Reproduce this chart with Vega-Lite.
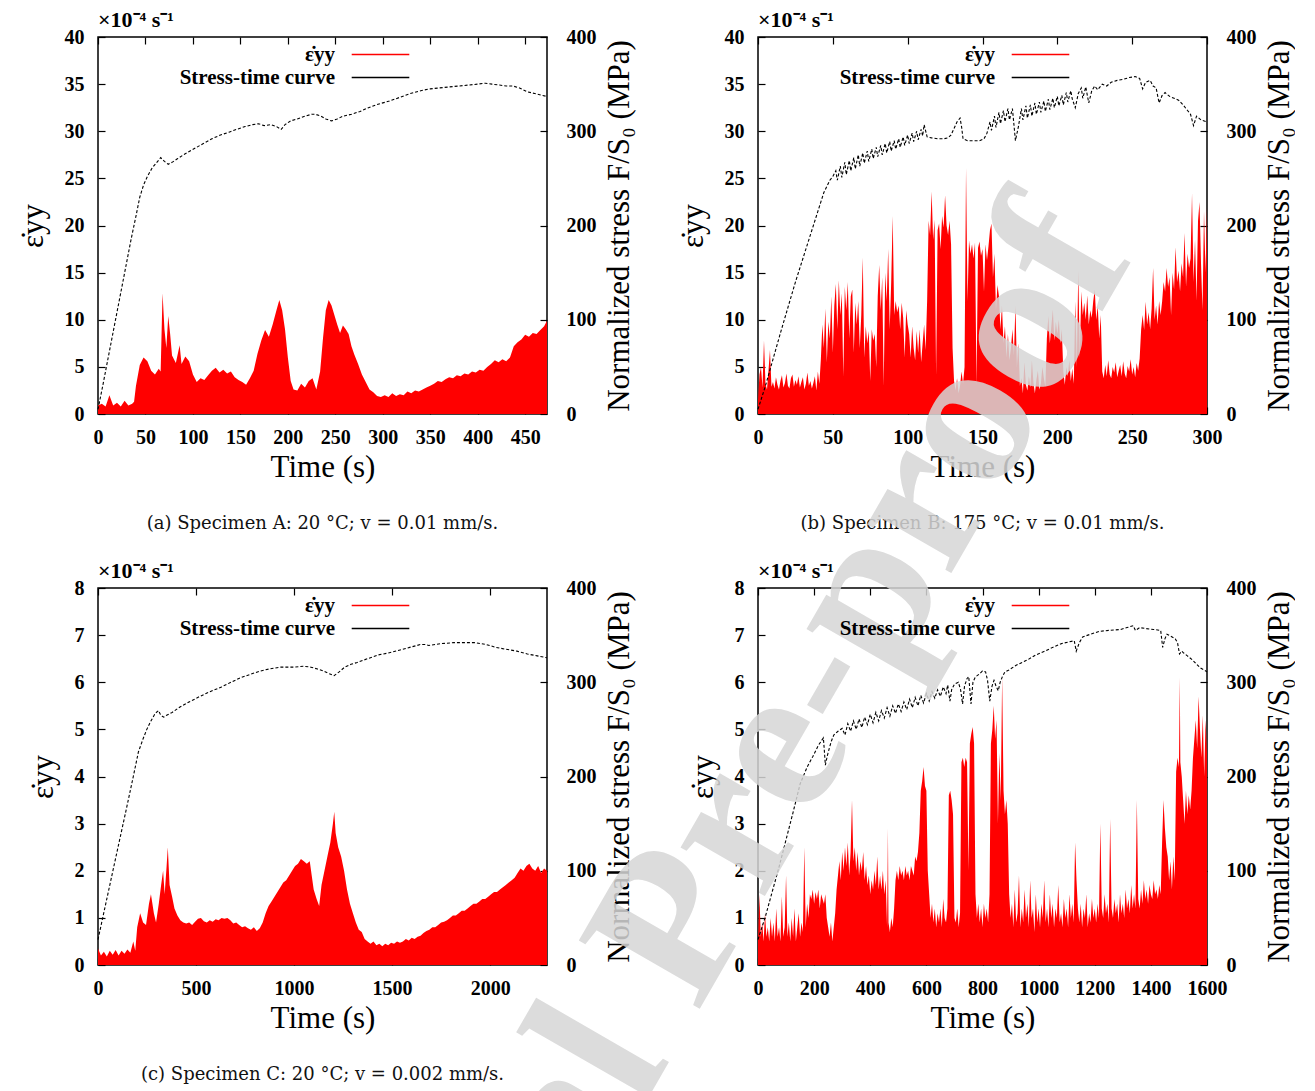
{
  "$schema": "https://vega.github.io/schema/vega-lite/v6.json",
  "background": "white",
  "padding": {"left": 16, "top": 8, "right": 0, "bottom": 0},
  "bounds": "flush",
  "columns": 2,
  "spacing": {"row": 174, "column": 211},
  "resolve": {"scale": {"color": "independent"}, "legend": {"color": "independent"}},
  "config": {
    "font": "Liberation Serif",
    "view": {"stroke": "#000000", "strokeWidth": 1.5},
    "axis": {"domain": false, "grid": false, "ticks": true, "tickSize": -7, "tickColor": "#000000", "tickWidth": 1.2, "labelFont": "Liberation Serif", "labelFontSize": 20, "labelFontWeight": "bold", "labelColor": "#000000", "titleFont": "Liberation Serif", "titleFontSize": 31, "titleFontWeight": "normal", "titleColor": "#000000", "labelFlush": false, "labelOverlap": false, "format": "d"},
    "axisBottom": {"labelPadding": 20, "titlePadding": 5},
    "axisTop": {"labels": false},
    "axisLeft": {"labelPadding": 21, "titlePadding": 15},
    "axisRight": {"labelPadding": 26, "titlePadding": 8, "titleAngle": 270, "titleBaseline": "top"},
    "legend": {"orient": "none", "legendX": 272, "legendY": 7, "title": null, "symbolType": "M-4.8,0H4.8", "symbolSize": 144, "symbolStrokeWidth": 1.3, "rowPadding": 1, "labelAlign": "right", "labelOffset": -56, "labelFont": "Liberation Serif", "labelFontSize": 21, "labelFontWeight": "bold", "labelColor": "#000000", "labelLimit": 400, "padding": 0},
    "title": {"font": "DejaVu Serif", "fontSize": 18, "fontWeight": "normal", "color": "#111111", "orient": "bottom", "offset": 33, "anchor": "middle"}
  },
  "datasets": {
    "sA": [{"t":0,"e":0.9},{"t":4,"e":1.1},{"t":8,"e":0.8},{"t":12,"e":2.0},{"t":16,"e":0.9},{"t":20,"e":1.2},{"t":24,"e":0.8},{"t":28,"e":1.4},{"t":32,"e":0.9},{"t":36,"e":1.1},{"t":38,"e":1.3},{"t":40,"e":3.0},{"t":44,"e":5.2},{"t":48,"e":6.0},{"t":52,"e":5.6},{"t":56,"e":4.6},{"t":60,"e":4.2},{"t":64,"e":4.8},{"t":66,"e":4.5},{"t":68,"e":12.8},{"t":70,"e":9.0},{"t":72,"e":7.0},{"t":74,"e":10.4},{"t":76,"e":8.5},{"t":78,"e":6.2},{"t":82,"e":5.4},{"t":86,"e":7.3},{"t":88,"e":5.3},{"t":92,"e":6.1},{"t":96,"e":5.6},{"t":100,"e":4.2},{"t":104,"e":3.4},{"t":108,"e":3.8},{"t":112,"e":3.6},{"t":116,"e":4.1},{"t":120,"e":4.6},{"t":124,"e":4.9},{"t":128,"e":4.4},{"t":132,"e":4.7},{"t":136,"e":4.3},{"t":140,"e":4.5},{"t":144,"e":3.9},{"t":148,"e":3.6},{"t":152,"e":3.4},{"t":156,"e":3.1},{"t":160,"e":3.8},{"t":164,"e":4.6},{"t":168,"e":6.4},{"t":172,"e":7.8},{"t":176,"e":8.9},{"t":180,"e":8.2},{"t":184,"e":9.5},{"t":188,"e":11.0},{"t":191,"e":12.1},{"t":194,"e":11.0},{"t":197,"e":9.0},{"t":200,"e":6.0},{"t":203,"e":3.5},{"t":206,"e":2.6},{"t":210,"e":2.5},{"t":214,"e":3.2},{"t":218,"e":2.8},{"t":222,"e":3.5},{"t":226,"e":3.8},{"t":230,"e":2.6},{"t":234,"e":4.5},{"t":237,"e":8.0},{"t":240,"e":11.0},{"t":243,"e":12.1},{"t":246,"e":11.5},{"t":249,"e":10.5},{"t":252,"e":9.5},{"t":255,"e":8.6},{"t":258,"e":9.4},{"t":261,"e":9.0},{"t":264,"e":8.5},{"t":267,"e":7.2},{"t":270,"e":6.3},{"t":274,"e":5.3},{"t":278,"e":4.2},{"t":282,"e":3.4},{"t":286,"e":2.6},{"t":290,"e":2.3},{"t":294,"e":1.9},{"t":298,"e":1.8},{"t":302,"e":2.0},{"t":306,"e":1.8},{"t":310,"e":2.2},{"t":314,"e":1.9},{"t":318,"e":2.1},{"t":322,"e":2.0},{"t":326,"e":2.4},{"t":330,"e":2.2},{"t":334,"e":2.5},{"t":338,"e":2.4},{"t":342,"e":2.6},{"t":346,"e":2.8},{"t":350,"e":3.0},{"t":354,"e":3.2},{"t":358,"e":3.5},{"t":362,"e":3.4},{"t":366,"e":3.7},{"t":370,"e":3.9},{"t":374,"e":3.8},{"t":378,"e":4.1},{"t":382,"e":4.0},{"t":386,"e":4.3},{"t":390,"e":4.2},{"t":394,"e":4.5},{"t":398,"e":4.4},{"t":402,"e":4.7},{"t":406,"e":4.6},{"t":410,"e":5.0},{"t":414,"e":5.3},{"t":418,"e":5.7},{"t":422,"e":5.5},{"t":426,"e":5.8},{"t":430,"e":5.6},{"t":434,"e":6.0},{"t":438,"e":7.2},{"t":442,"e":7.6},{"t":446,"e":7.9},{"t":450,"e":8.4},{"t":454,"e":8.2},{"t":458,"e":8.6},{"t":462,"e":8.5},{"t":466,"e":8.9},{"t":470,"e":9.3},{"t":473,"e":9.9}],
    "pA": [{"t":0,"s":5},{"t":5,"s":30},{"t":10,"s":56},{"t":15,"s":82},{"t":20,"s":108},{"t":25,"s":134},{"t":30,"s":160},{"t":35,"s":186},{"t":40,"s":210},{"t":44,"s":230},{"t":48,"s":243},{"t":52,"s":252},{"t":57,"s":261},{"t":62,"s":267},{"t":66,"s":272},{"t":70,"s":268},{"t":74,"s":265},{"t":78,"s":267},{"t":84,"s":271},{"t":90,"s":275},{"t":97,"s":279},{"t":104,"s":283},{"t":111,"s":287},{"t":120,"s":292},{"t":129,"s":296},{"t":138,"s":299},{"t":146,"s":302},{"t":155,"s":305},{"t":163,"s":307},{"t":169,"s":308},{"t":175,"s":306},{"t":182,"s":307},{"t":188,"s":305},{"t":193,"s":302},{"t":197,"s":307},{"t":203,"s":311},{"t":210,"s":313},{"t":218,"s":316},{"t":225,"s":318},{"t":229,"s":318},{"t":235,"s":316},{"t":240,"s":313},{"t":246,"s":311},{"t":252,"s":313},{"t":258,"s":316},{"t":267,"s":318},{"t":276,"s":321},{"t":285,"s":325},{"t":296,"s":329},{"t":307,"s":332},{"t":318,"s":336},{"t":329,"s":340},{"t":340,"s":343},{"t":350,"s":345},{"t":360,"s":346},{"t":370,"s":347},{"t":380,"s":348},{"t":390,"s":349},{"t":400,"s":350},{"t":408,"s":351},{"t":415,"s":350},{"t":423,"s":349},{"t":430,"s":348},{"t":437,"s":348},{"t":444,"s":346},{"t":452,"s":342},{"t":460,"s":340},{"t":468,"s":338},{"t":473,"s":337}],
    "sB": [{"t":0,"e":1.5},{"t":1,"e":4.2},{"t":2,"e":5.0},{"t":3,"e":2.8},{"t":4,"e":7.8},{"t":5,"e":3.2},{"t":6,"e":2.6},{"t":7,"e":4.6},{"t":8,"e":6.8},{"t":9,"e":2.9},{"t":10,"e":3.4},{"t":11,"e":2.7},{"t":12,"e":3.9},{"t":13,"e":3.1},{"t":14,"e":2.6},{"t":15,"e":3.5},{"t":16,"e":4.1},{"t":17,"e":2.8},{"t":18,"e":3.3},{"t":19,"e":4.3},{"t":20,"e":3.0},{"t":21,"e":2.7},{"t":22,"e":3.8},{"t":23,"e":4.2},{"t":24,"e":2.9},{"t":25,"e":3.6},{"t":26,"e":3.1},{"t":27,"e":4.0},{"t":28,"e":2.8},{"t":29,"e":3.4},{"t":30,"e":3.9},{"t":31,"e":2.6},{"t":32,"e":3.2},{"t":33,"e":4.4},{"t":34,"e":3.0},{"t":35,"e":3.5},{"t":36,"e":2.7},{"t":37,"e":3.3},{"t":38,"e":4.0},{"t":39,"e":2.5},{"t":40,"e":4.5},{"t":41,"e":3.2},{"t":42,"e":5.8},{"t":43,"e":9.5},{"t":44,"e":7.0},{"t":45,"e":11.2},{"t":46,"e":5.5},{"t":47,"e":9.8},{"t":48,"e":8.0},{"t":49,"e":12.5},{"t":50,"e":6.5},{"t":51,"e":11.5},{"t":52,"e":13.8},{"t":53,"e":9.0},{"t":54,"e":14.2},{"t":55,"e":10.5},{"t":56,"e":12.8},{"t":57,"e":4.0},{"t":58,"e":13.5},{"t":59,"e":11.0},{"t":60,"e":14.0},{"t":61,"e":8.0},{"t":62,"e":12.5},{"t":63,"e":13.2},{"t":64,"e":6.5},{"t":65,"e":11.8},{"t":66,"e":9.5},{"t":67,"e":12.0},{"t":68,"e":7.0},{"t":69,"e":10.5},{"t":70,"e":16.6},{"t":71,"e":6.0},{"t":72,"e":9.3},{"t":73,"e":7.5},{"t":74,"e":8.8},{"t":75,"e":3.5},{"t":76,"e":9.0},{"t":77,"e":7.8},{"t":78,"e":8.5},{"t":79,"e":5.0},{"t":80,"e":12.5},{"t":81,"e":15.8},{"t":82,"e":11.0},{"t":83,"e":14.5},{"t":84,"e":3.0},{"t":85,"e":15.0},{"t":86,"e":12.0},{"t":87,"e":17.5},{"t":88,"e":9.0},{"t":89,"e":14.0},{"t":90,"e":21.0},{"t":91,"e":10.5},{"t":92,"e":12.0},{"t":93,"e":10.8},{"t":94,"e":11.5},{"t":95,"e":9.0},{"t":96,"e":11.8},{"t":97,"e":10.2},{"t":98,"e":6.0},{"t":99,"e":11.0},{"t":100,"e":9.5},{"t":101,"e":8.5},{"t":102,"e":6.0},{"t":103,"e":9.3},{"t":104,"e":7.0},{"t":105,"e":5.7},{"t":106,"e":8.8},{"t":107,"e":6.5},{"t":108,"e":9.0},{"t":109,"e":5.5},{"t":110,"e":7.5},{"t":111,"e":9.5},{"t":112,"e":6.8},{"t":113,"e":12.0},{"t":114,"e":20.5},{"t":115,"e":19.0},{"t":116,"e":23.6},{"t":117,"e":18.5},{"t":118,"e":20.6},{"t":119,"e":4.0},{"t":120,"e":19.5},{"t":121,"e":20.2},{"t":122,"e":17.5},{"t":123,"e":21.0},{"t":124,"e":19.8},{"t":125,"e":23.2},{"t":126,"e":20.0},{"t":127,"e":19.0},{"t":128,"e":20.5},{"t":129,"e":18.0},{"t":130,"e":7.0},{"t":131,"e":3.5},{"t":132,"e":2.5},{"t":133,"e":3.8},{"t":134,"e":2.2},{"t":135,"e":3.0},{"t":136,"e":4.5},{"t":137,"e":3.2},{"t":138,"e":5.0},{"t":139,"e":26.1},{"t":140,"e":12.0},{"t":141,"e":18.4},{"t":142,"e":17.0},{"t":143,"e":18.0},{"t":144,"e":16.5},{"t":145,"e":18.2},{"t":146,"e":3.0},{"t":147,"e":17.6},{"t":148,"e":18.3},{"t":149,"e":16.8},{"t":150,"e":17.5},{"t":151,"e":13.0},{"t":152,"e":18.0},{"t":153,"e":16.3},{"t":154,"e":17.8},{"t":155,"e":19.5},{"t":156,"e":20.2},{"t":157,"e":14.5},{"t":158,"e":17.0},{"t":159,"e":11.0},{"t":160,"e":13.7},{"t":161,"e":12.5},{"t":162,"e":9.0},{"t":163,"e":11.5},{"t":164,"e":7.5},{"t":165,"e":9.3},{"t":166,"e":6.0},{"t":167,"e":8.5},{"t":168,"e":5.7},{"t":169,"e":7.0},{"t":170,"e":9.0},{"t":171,"e":6.2},{"t":172,"e":11.5},{"t":173,"e":5.0},{"t":174,"e":7.5},{"t":175,"e":3.0},{"t":176,"e":3.8},{"t":177,"e":2.2},{"t":178,"e":5.5},{"t":179,"e":3.1},{"t":180,"e":2.5},{"t":181,"e":4.0},{"t":182,"e":2.8},{"t":183,"e":5.7},{"t":184,"e":3.4},{"t":185,"e":2.2},{"t":186,"e":3.6},{"t":187,"e":4.6},{"t":188,"e":2.6},{"t":189,"e":3.2},{"t":190,"e":5.0},{"t":191,"e":3.8},{"t":192,"e":2.9},{"t":193,"e":8.0},{"t":194,"e":10.4},{"t":195,"e":7.5},{"t":196,"e":9.3},{"t":197,"e":11.1},{"t":198,"e":7.8},{"t":199,"e":9.8},{"t":200,"e":8.5},{"t":201,"e":10.0},{"t":202,"e":7.5},{"t":203,"e":9.0},{"t":204,"e":4.5},{"t":205,"e":3.1},{"t":206,"e":5.0},{"t":207,"e":4.0},{"t":208,"e":5.7},{"t":209,"e":3.5},{"t":210,"e":4.8},{"t":211,"e":3.2},{"t":212,"e":12.0},{"t":213,"e":5.0},{"t":214,"e":15.2},{"t":215,"e":6.0},{"t":216,"e":13.0},{"t":217,"e":10.5},{"t":218,"e":11.8},{"t":219,"e":10.0},{"t":220,"e":12.6},{"t":221,"e":9.5},{"t":222,"e":11.0},{"t":223,"e":10.2},{"t":224,"e":12.0},{"t":225,"e":13.2},{"t":226,"e":10.0},{"t":227,"e":11.5},{"t":228,"e":8.0},{"t":229,"e":10.5},{"t":230,"e":4.5},{"t":231,"e":3.8},{"t":232,"e":5.2},{"t":233,"e":4.0},{"t":234,"e":5.7},{"t":235,"e":4.2},{"t":236,"e":3.8},{"t":237,"e":5.0},{"t":238,"e":4.4},{"t":239,"e":5.5},{"t":240,"e":3.9},{"t":241,"e":4.6},{"t":242,"e":5.2},{"t":243,"e":4.0},{"t":244,"e":5.6},{"t":245,"e":4.3},{"t":246,"e":3.8},{"t":247,"e":5.1},{"t":248,"e":4.5},{"t":249,"e":5.8},{"t":250,"e":4.2},{"t":251,"e":5.0},{"t":252,"e":3.9},{"t":253,"e":5.4},{"t":254,"e":4.6},{"t":255,"e":5.9},{"t":256,"e":9.0},{"t":257,"e":10.5},{"t":258,"e":8.9},{"t":259,"e":11.9},{"t":260,"e":9.5},{"t":261,"e":10.8},{"t":262,"e":9.0},{"t":263,"e":11.2},{"t":264,"e":15.5},{"t":265,"e":10.0},{"t":266,"e":11.5},{"t":267,"e":9.5},{"t":268,"e":12.0},{"t":269,"e":10.5},{"t":270,"e":11.9},{"t":271,"e":14.0},{"t":272,"e":13.0},{"t":273,"e":15.5},{"t":274,"e":13.5},{"t":275,"e":14.5},{"t":276,"e":10.5},{"t":277,"e":15.0},{"t":278,"e":13.2},{"t":279,"e":17.7},{"t":280,"e":14.0},{"t":281,"e":15.2},{"t":282,"e":13.0},{"t":283,"e":16.0},{"t":284,"e":14.5},{"t":285,"e":19.2},{"t":286,"e":13.5},{"t":287,"e":17.0},{"t":288,"e":15.5},{"t":289,"e":16.5},{"t":290,"e":23.4},{"t":291,"e":14.0},{"t":292,"e":18.5},{"t":293,"e":12.0},{"t":294,"e":20.5},{"t":295,"e":22.5},{"t":296,"e":16.0},{"t":297,"e":11.0},{"t":298,"e":21.5},{"t":299,"e":15.0},{"t":300,"e":22.0}],
    "pB": [{"t":0,"s":5},{"t":5,"s":30},{"t":10,"s":58},{"t":15,"s":86},{"t":20,"s":113},{"t":25,"s":140},{"t":30,"s":165},{"t":35,"s":190},{"t":40,"s":215},{"t":44,"s":235},{"t":48,"s":248},{"t":50,"s":252},{"t":52,"s":258},{"t":53,"s":248},{"t":55,"s":263},{"t":56,"s":251},{"t":58,"s":267},{"t":59,"s":254},{"t":61,"s":269},{"t":62,"s":258},{"t":64,"s":272},{"t":65,"s":260},{"t":67,"s":275},{"t":68,"s":263},{"t":70,"s":277},{"t":71,"s":266},{"t":73,"s":279},{"t":74,"s":268},{"t":76,"s":281},{"t":77,"s":271},{"t":79,"s":283},{"t":80,"s":273},{"t":82,"s":285},{"t":83,"s":275},{"t":85,"s":287},{"t":86,"s":277},{"t":88,"s":289},{"t":89,"s":279},{"t":91,"s":290},{"t":92,"s":281},{"t":94,"s":292},{"t":95,"s":283},{"t":97,"s":294},{"t":98,"s":285},{"t":100,"s":296},{"t":101,"s":287},{"t":103,"s":298},{"t":104,"s":289},{"t":106,"s":300},{"t":107,"s":291},{"t":109,"s":302},{"t":110,"s":295},{"t":111,"s":307},{"t":113,"s":294},{"t":116,"s":293},{"t":120,"s":292},{"t":124,"s":292},{"t":127,"s":293},{"t":129,"s":296},{"t":131,"s":303},{"t":133,"s":310},{"t":135,"s":314},{"t":136,"s":305},{"t":137,"s":292},{"t":140,"s":290},{"t":144,"s":290},{"t":148,"s":290},{"t":151,"s":292},{"t":153,"s":298},{"t":155,"s":310},{"t":156,"s":301},{"t":158,"s":316},{"t":159,"s":304},{"t":161,"s":320},{"t":162,"s":308},{"t":164,"s":322},{"t":165,"s":310},{"t":167,"s":324},{"t":168,"s":312},{"t":170,"s":324},{"t":172,"s":290},{"t":174,"s":305},{"t":176,"s":324},{"t":177,"s":312},{"t":179,"s":327},{"t":180,"s":314},{"t":182,"s":328},{"t":183,"s":316},{"t":185,"s":330},{"t":186,"s":318},{"t":188,"s":331},{"t":189,"s":320},{"t":191,"s":332},{"t":192,"s":321},{"t":194,"s":334},{"t":195,"s":323},{"t":197,"s":335},{"t":198,"s":325},{"t":200,"s":337},{"t":201,"s":327},{"t":203,"s":338},{"t":204,"s":328},{"t":206,"s":341},{"t":207,"s":331},{"t":209,"s":343},{"t":210,"s":334},{"t":212,"s":325},{"t":214,"s":340},{"t":216,"s":346},{"t":217,"s":335},{"t":219,"s":347},{"t":221,"s":330},{"t":223,"s":343},{"t":225,"s":348},{"t":227,"s":344},{"t":230,"s":350},{"t":233,"s":348},{"t":236,"s":352},{"t":240,"s":354},{"t":244,"s":355},{"t":248,"s":357},{"t":252,"s":358},{"t":255,"s":356},{"t":257,"s":345},{"t":259,"s":352},{"t":262,"s":354},{"t":264,"s":348},{"t":266,"s":346},{"t":268,"s":330},{"t":270,"s":338},{"t":272,"s":341},{"t":275,"s":337},{"t":278,"s":335},{"t":281,"s":333},{"t":284,"s":328},{"t":287,"s":322},{"t":289,"s":318},{"t":291,"s":306},{"t":293,"s":316},{"t":296,"s":312},{"t":300,"s":310}],
    "sC": [{"t":0,"e":0.35},{"t":15,"e":0.2},{"t":30,"e":0.28},{"t":45,"e":0.18},{"t":60,"e":0.3},{"t":75,"e":0.22},{"t":90,"e":0.32},{"t":105,"e":0.2},{"t":120,"e":0.3},{"t":135,"e":0.24},{"t":150,"e":0.33},{"t":165,"e":0.26},{"t":180,"e":0.5},{"t":190,"e":0.3},{"t":200,"e":0.8},{"t":215,"e":1.1},{"t":230,"e":0.9},{"t":245,"e":0.85},{"t":260,"e":1.3},{"t":270,"e":1.5},{"t":285,"e":1.1},{"t":296,"e":0.9},{"t":310,"e":1.3},{"t":322,"e":1.7},{"t":332,"e":2.0},{"t":340,"e":1.5},{"t":350,"e":2.1},{"t":356,"e":2.5},{"t":365,"e":1.7},{"t":378,"e":1.45},{"t":390,"e":1.2},{"t":405,"e":1.05},{"t":420,"e":0.95},{"t":435,"e":0.9},{"t":450,"e":0.88},{"t":465,"e":0.9},{"t":480,"e":0.85},{"t":495,"e":0.92},{"t":510,"e":0.98},{"t":525,"e":1.0},{"t":540,"e":0.93},{"t":555,"e":0.9},{"t":570,"e":0.95},{"t":585,"e":0.92},{"t":600,"e":0.97},{"t":615,"e":0.95},{"t":630,"e":1.0},{"t":645,"e":0.98},{"t":660,"e":1.0},{"t":675,"e":0.95},{"t":690,"e":0.88},{"t":705,"e":0.9},{"t":720,"e":0.85},{"t":735,"e":0.8},{"t":750,"e":0.82},{"t":765,"e":0.78},{"t":780,"e":0.75},{"t":795,"e":0.8},{"t":810,"e":0.72},{"t":825,"e":0.78},{"t":840,"e":0.9},{"t":855,"e":1.1},{"t":870,"e":1.25},{"t":885,"e":1.35},{"t":900,"e":1.45},{"t":915,"e":1.55},{"t":930,"e":1.65},{"t":945,"e":1.75},{"t":960,"e":1.8},{"t":975,"e":1.9},{"t":990,"e":2.0},{"t":1005,"e":2.1},{"t":1020,"e":2.15},{"t":1035,"e":2.25},{"t":1050,"e":2.2},{"t":1065,"e":2.15},{"t":1080,"e":2.2},{"t":1090,"e":1.9},{"t":1100,"e":1.6},{"t":1115,"e":1.4},{"t":1128,"e":1.25},{"t":1140,"e":1.7},{"t":1155,"e":2.0},{"t":1170,"e":2.3},{"t":1185,"e":2.6},{"t":1198,"e":3.0},{"t":1205,"e":3.25},{"t":1212,"e":2.8},{"t":1225,"e":2.5},{"t":1240,"e":2.3},{"t":1255,"e":2.0},{"t":1270,"e":1.6},{"t":1285,"e":1.3},{"t":1300,"e":1.1},{"t":1315,"e":0.9},{"t":1330,"e":0.75},{"t":1345,"e":0.7},{"t":1360,"e":0.55},{"t":1375,"e":0.5},{"t":1390,"e":0.45},{"t":1405,"e":0.5},{"t":1420,"e":0.42},{"t":1435,"e":0.45},{"t":1450,"e":0.4},{"t":1465,"e":0.45},{"t":1480,"e":0.42},{"t":1495,"e":0.47},{"t":1510,"e":0.45},{"t":1525,"e":0.5},{"t":1540,"e":0.47},{"t":1555,"e":0.5},{"t":1570,"e":0.55},{"t":1585,"e":0.52},{"t":1600,"e":0.58},{"t":1615,"e":0.55},{"t":1630,"e":0.6},{"t":1645,"e":0.62},{"t":1660,"e":0.68},{"t":1675,"e":0.72},{"t":1690,"e":0.75},{"t":1705,"e":0.8},{"t":1720,"e":0.8},{"t":1735,"e":0.85},{"t":1750,"e":0.9},{"t":1765,"e":0.92},{"t":1780,"e":0.95},{"t":1795,"e":1.0},{"t":1810,"e":1.05},{"t":1825,"e":1.05},{"t":1840,"e":1.1},{"t":1855,"e":1.15},{"t":1870,"e":1.15},{"t":1885,"e":1.2},{"t":1900,"e":1.25},{"t":1915,"e":1.3},{"t":1930,"e":1.3},{"t":1945,"e":1.35},{"t":1960,"e":1.4},{"t":1975,"e":1.4},{"t":1990,"e":1.45},{"t":2005,"e":1.5},{"t":2020,"e":1.55},{"t":2035,"e":1.55},{"t":2050,"e":1.6},{"t":2065,"e":1.65},{"t":2080,"e":1.7},{"t":2095,"e":1.75},{"t":2110,"e":1.8},{"t":2125,"e":1.85},{"t":2140,"e":1.95},{"t":2155,"e":2.05},{"t":2170,"e":2.0},{"t":2185,"e":2.1},{"t":2200,"e":2.15},{"t":2215,"e":2.05},{"t":2230,"e":2.0},{"t":2245,"e":2.1},{"t":2260,"e":1.95},{"t":2275,"e":2.05},{"t":2290,"e":2.0}],
    "pC": [{"t":0,"s":27},{"t":50,"s":75},{"t":100,"s":123},{"t":142,"s":163},{"t":180,"s":200},{"t":206,"s":226},{"t":230,"s":240},{"t":249,"s":250},{"t":270,"s":259},{"t":292,"s":267},{"t":309,"s":270},{"t":320,"s":265},{"t":335,"s":263},{"t":350,"s":265},{"t":378,"s":268},{"t":420,"s":274},{"t":464,"s":279},{"t":520,"s":285},{"t":571,"s":290},{"t":630,"s":295},{"t":678,"s":300},{"t":730,"s":305},{"t":785,"s":309},{"t":830,"s":312},{"t":871,"s":314},{"t":930,"s":316},{"t":1000,"s":316},{"t":1050,"s":317},{"t":1086,"s":316},{"t":1120,"s":314},{"t":1150,"s":312},{"t":1180,"s":309},{"t":1204,"s":307},{"t":1230,"s":311},{"t":1258,"s":316},{"t":1290,"s":319},{"t":1322,"s":321},{"t":1375,"s":325},{"t":1429,"s":329},{"t":1480,"s":331},{"t":1536,"s":334},{"t":1590,"s":337},{"t":1644,"s":340},{"t":1670,"s":340},{"t":1687,"s":339},{"t":1720,"s":340},{"t":1751,"s":341},{"t":1815,"s":342},{"t":1870,"s":342},{"t":1923,"s":342},{"t":1980,"s":340},{"t":2030,"s":337},{"t":2080,"s":335},{"t":2137,"s":333},{"t":2190,"s":330},{"t":2240,"s":328},{"t":2290,"s":326}],
    "sD": [{"t":0,"e":0.5},{"t":5,"e":1.5},{"t":10,"e":0.6},{"t":15,"e":0.9},{"t":20,"e":0.5},{"t":25,"e":1.1},{"t":30,"e":0.6},{"t":35,"e":0.8},{"t":40,"e":0.5},{"t":45,"e":1.0},{"t":50,"e":0.6},{"t":55,"e":0.9},{"t":60,"e":0.5},{"t":65,"e":1.2},{"t":70,"e":0.6},{"t":75,"e":0.8},{"t":80,"e":0.5},{"t":85,"e":1.46},{"t":90,"e":0.6},{"t":95,"e":0.8},{"t":100,"e":1.9},{"t":105,"e":0.6},{"t":110,"e":0.9},{"t":115,"e":0.5},{"t":120,"e":1.0},{"t":125,"e":0.6},{"t":130,"e":1.2},{"t":135,"e":0.5},{"t":140,"e":0.8},{"t":145,"e":1.1},{"t":150,"e":0.6},{"t":155,"e":0.9},{"t":160,"e":0.7},{"t":165,"e":2.5},{"t":170,"e":0.8},{"t":175,"e":1.3},{"t":180,"e":1.0},{"t":185,"e":1.5},{"t":190,"e":1.4},{"t":195,"e":1.6},{"t":200,"e":1.3},{"t":205,"e":1.55},{"t":210,"e":1.4},{"t":215,"e":1.6},{"t":220,"e":1.2},{"t":225,"e":1.5},{"t":230,"e":1.4},{"t":235,"e":1.3},{"t":240,"e":1.5},{"t":245,"e":1.0},{"t":250,"e":0.8},{"t":255,"e":0.6},{"t":260,"e":0.9},{"t":265,"e":0.5},{"t":270,"e":0.8},{"t":275,"e":1.1},{"t":280,"e":1.6},{"t":285,"e":1.9},{"t":290,"e":2.2},{"t":295,"e":1.8},{"t":300,"e":2.4},{"t":305,"e":2.0},{"t":310,"e":2.5},{"t":315,"e":2.1},{"t":320,"e":2.6},{"t":325,"e":1.9},{"t":330,"e":2.4},{"t":335,"e":3.5},{"t":340,"e":2.2},{"t":345,"e":2.5},{"t":350,"e":2.0},{"t":355,"e":2.4},{"t":360,"e":1.9},{"t":365,"e":2.2},{"t":370,"e":2.0},{"t":375,"e":2.4},{"t":380,"e":1.8},{"t":385,"e":2.1},{"t":390,"e":1.7},{"t":395,"e":1.9},{"t":400,"e":1.5},{"t":405,"e":1.8},{"t":410,"e":1.6},{"t":415,"e":2.0},{"t":420,"e":1.7},{"t":425,"e":2.3},{"t":430,"e":1.6},{"t":435,"e":1.9},{"t":440,"e":1.6},{"t":445,"e":2.0},{"t":450,"e":1.5},{"t":455,"e":1.8},{"t":460,"e":0.8},{"t":463,"e":2.9},{"t":465,"e":0.9},{"t":470,"e":0.7},{"t":475,"e":1.0},{"t":480,"e":0.8},{"t":485,"e":1.2},{"t":490,"e":1.8},{"t":495,"e":2.0},{"t":500,"e":1.8},{"t":505,"e":2.1},{"t":510,"e":1.9},{"t":515,"e":2.0},{"t":520,"e":1.8},{"t":525,"e":2.1},{"t":530,"e":1.9},{"t":535,"e":2.0},{"t":540,"e":1.8},{"t":545,"e":2.1},{"t":550,"e":2.0},{"t":555,"e":1.9},{"t":560,"e":2.3},{"t":565,"e":2.2},{"t":570,"e":2.4},{"t":575,"e":2.8},{"t":580,"e":3.7},{"t":585,"e":3.9},{"t":590,"e":4.2},{"t":595,"e":3.8},{"t":600,"e":3.7},{"t":605,"e":2.0},{"t":610,"e":1.5},{"t":615,"e":1.0},{"t":620,"e":1.3},{"t":625,"e":0.9},{"t":630,"e":1.2},{"t":635,"e":0.8},{"t":640,"e":1.1},{"t":645,"e":0.9},{"t":650,"e":1.2},{"t":655,"e":0.8},{"t":660,"e":1.4},{"t":665,"e":1.0},{"t":670,"e":0.9},{"t":675,"e":1.2},{"t":680,"e":3.6},{"t":685,"e":3.7},{"t":690,"e":3.5},{"t":695,"e":3.2},{"t":700,"e":1.0},{"t":705,"e":0.9},{"t":710,"e":1.2},{"t":715,"e":0.8},{"t":720,"e":1.1},{"t":725,"e":4.3},{"t":730,"e":4.4},{"t":735,"e":4.2},{"t":740,"e":4.4},{"t":745,"e":4.3},{"t":750,"e":2.0},{"t":755,"e":4.7},{"t":760,"e":4.9},{"t":765,"e":5.05},{"t":770,"e":4.7},{"t":775,"e":1.5},{"t":780,"e":1.0},{"t":785,"e":1.3},{"t":790,"e":0.9},{"t":795,"e":1.2},{"t":800,"e":0.8},{"t":805,"e":1.3},{"t":810,"e":1.0},{"t":815,"e":1.2},{"t":820,"e":0.9},{"t":825,"e":1.5},{"t":830,"e":4.7},{"t":835,"e":5.0},{"t":840,"e":5.5},{"t":845,"e":4.8},{"t":850,"e":5.2},{"t":855,"e":3.0},{"t":860,"e":4.5},{"t":865,"e":3.5},{"t":870,"e":6.1},{"t":875,"e":3.7},{"t":880,"e":3.2},{"t":885,"e":3.5},{"t":890,"e":3.0},{"t":895,"e":1.5},{"t":900,"e":1.0},{"t":905,"e":1.3},{"t":910,"e":0.8},{"t":915,"e":1.6},{"t":920,"e":0.9},{"t":925,"e":1.1},{"t":930,"e":1.9},{"t":935,"e":0.8},{"t":940,"e":1.2},{"t":945,"e":0.9},{"t":950,"e":1.6},{"t":955,"e":1.0},{"t":960,"e":1.3},{"t":965,"e":0.8},{"t":970,"e":1.8},{"t":975,"e":1.0},{"t":980,"e":1.2},{"t":985,"e":0.7},{"t":990,"e":1.5},{"t":995,"e":0.9},{"t":1000,"e":1.2},{"t":1005,"e":0.8},{"t":1010,"e":1.3},{"t":1015,"e":1.0},{"t":1020,"e":1.8},{"t":1025,"e":0.9},{"t":1030,"e":1.2},{"t":1035,"e":0.8},{"t":1040,"e":1.5},{"t":1045,"e":1.0},{"t":1050,"e":1.3},{"t":1055,"e":0.8},{"t":1060,"e":1.2},{"t":1065,"e":1.0},{"t":1070,"e":1.7},{"t":1075,"e":0.9},{"t":1080,"e":1.1},{"t":1085,"e":0.8},{"t":1090,"e":1.4},{"t":1095,"e":1.0},{"t":1100,"e":1.2},{"t":1105,"e":0.8},{"t":1110,"e":1.5},{"t":1115,"e":1.0},{"t":1120,"e":1.3},{"t":1125,"e":0.9},{"t":1130,"e":2.6},{"t":1135,"e":1.8},{"t":1140,"e":1.2},{"t":1145,"e":0.9},{"t":1150,"e":1.3},{"t":1155,"e":0.8},{"t":1160,"e":1.2},{"t":1165,"e":1.0},{"t":1170,"e":1.5},{"t":1175,"e":0.8},{"t":1180,"e":1.1},{"t":1185,"e":0.9},{"t":1190,"e":1.4},{"t":1195,"e":1.0},{"t":1200,"e":1.2},{"t":1205,"e":0.9},{"t":1210,"e":1.3},{"t":1215,"e":1.0},{"t":1220,"e":3.0},{"t":1225,"e":1.2},{"t":1230,"e":1.0},{"t":1235,"e":1.5},{"t":1240,"e":1.1},{"t":1245,"e":1.3},{"t":1250,"e":0.9},{"t":1255,"e":3.1},{"t":1260,"e":1.2},{"t":1265,"e":1.0},{"t":1270,"e":1.4},{"t":1275,"e":1.1},{"t":1280,"e":1.3},{"t":1285,"e":0.9},{"t":1290,"e":1.5},{"t":1295,"e":1.1},{"t":1300,"e":1.3},{"t":1305,"e":1.0},{"t":1310,"e":1.6},{"t":1315,"e":1.2},{"t":1320,"e":1.4},{"t":1325,"e":1.1},{"t":1330,"e":1.7},{"t":1335,"e":1.2},{"t":1340,"e":1.5},{"t":1345,"e":1.2},{"t":1350,"e":3.5},{"t":1355,"e":1.4},{"t":1360,"e":1.2},{"t":1365,"e":1.6},{"t":1370,"e":1.3},{"t":1375,"e":1.8},{"t":1380,"e":1.4},{"t":1385,"e":1.6},{"t":1390,"e":1.3},{"t":1395,"e":1.7},{"t":1400,"e":1.5},{"t":1405,"e":1.4},{"t":1410,"e":1.8},{"t":1415,"e":1.5},{"t":1420,"e":1.6},{"t":1425,"e":1.4},{"t":1430,"e":1.7},{"t":1435,"e":1.5},{"t":1440,"e":2.6},{"t":1445,"e":3.5},{"t":1450,"e":2.9},{"t":1455,"e":2.5},{"t":1460,"e":2.3},{"t":1465,"e":1.8},{"t":1470,"e":2.2},{"t":1475,"e":1.6},{"t":1480,"e":2.3},{"t":1485,"e":1.8},{"t":1490,"e":4.1},{"t":1495,"e":4.4},{"t":1500,"e":4.2},{"t":1503,"e":6.1},{"t":1505,"e":4.3},{"t":1510,"e":4.0},{"t":1515,"e":3.5},{"t":1520,"e":3.0},{"t":1525,"e":3.7},{"t":1530,"e":3.2},{"t":1535,"e":3.6},{"t":1540,"e":3.3},{"t":1545,"e":3.7},{"t":1550,"e":4.4},{"t":1555,"e":4.8},{"t":1560,"e":5.2},{"t":1565,"e":4.6},{"t":1570,"e":5.7},{"t":1575,"e":5.0},{"t":1580,"e":4.4},{"t":1585,"e":5.3},{"t":1590,"e":4.0},{"t":1595,"e":5.2},{"t":1600,"e":4.5}],
    "pD": [{"t":0,"s":27},{"t":25,"s":50},{"t":50,"s":77},{"t":75,"s":104},{"t":100,"s":133},{"t":125,"s":162},{"t":150,"s":192},{"t":175,"s":210},{"t":195,"s":221},{"t":215,"s":233},{"t":233,"s":241},{"t":237,"s":225},{"t":240,"s":212},{"t":247,"s":222},{"t":255,"s":231},{"t":262,"s":238},{"t":270,"s":244},{"t":285,"s":248},{"t":300,"s":251},{"t":310,"s":244},{"t":320,"s":256},{"t":330,"s":248},{"t":340,"s":259},{"t":350,"s":250},{"t":360,"s":261},{"t":370,"s":252},{"t":380,"s":263},{"t":390,"s":255},{"t":400,"s":266},{"t":410,"s":257},{"t":420,"s":268},{"t":430,"s":259},{"t":440,"s":270},{"t":450,"s":262},{"t":460,"s":273},{"t":470,"s":264},{"t":480,"s":275},{"t":490,"s":267},{"t":500,"s":277},{"t":510,"s":269},{"t":520,"s":279},{"t":530,"s":271},{"t":540,"s":282},{"t":550,"s":273},{"t":560,"s":284},{"t":570,"s":275},{"t":580,"s":286},{"t":590,"s":278},{"t":600,"s":288},{"t":610,"s":280},{"t":620,"s":290},{"t":630,"s":283},{"t":640,"s":292},{"t":650,"s":285},{"t":660,"s":295},{"t":670,"s":288},{"t":676,"s":297},{"t":684,"s":280},{"t":690,"s":292},{"t":700,"s":298},{"t":714,"s":300},{"t":722,"s":292},{"t":729,"s":277},{"t":736,"s":296},{"t":745,"s":304},{"t":751,"s":306},{"t":759,"s":277},{"t":766,"s":300},{"t":775,"s":306},{"t":781,"s":307},{"t":790,"s":309},{"t":800,"s":312},{"t":811,"s":311},{"t":818,"s":302},{"t":826,"s":280},{"t":834,"s":296},{"t":841,"s":302},{"t":848,"s":296},{"t":856,"s":291},{"t":863,"s":300},{"t":871,"s":306},{"t":880,"s":311},{"t":894,"s":313},{"t":920,"s":318},{"t":962,"s":324},{"t":990,"s":329},{"t":1022,"s":333},{"t":1050,"s":337},{"t":1082,"s":341},{"t":1110,"s":343},{"t":1127,"s":344},{"t":1134,"s":333},{"t":1145,"s":342},{"t":1157,"s":348},{"t":1185,"s":351},{"t":1217,"s":354},{"t":1250,"s":355},{"t":1292,"s":356},{"t":1315,"s":358},{"t":1337,"s":360},{"t":1345,"s":355},{"t":1360,"s":358},{"t":1382,"s":357},{"t":1410,"s":356},{"t":1435,"s":355},{"t":1442,"s":337},{"t":1450,"s":346},{"t":1457,"s":351},{"t":1470,"s":349},{"t":1487,"s":346},{"t":1495,"s":342},{"t":1502,"s":330},{"t":1510,"s":333},{"t":1517,"s":331},{"t":1530,"s":328},{"t":1547,"s":324},{"t":1560,"s":320},{"t":1577,"s":315},{"t":1590,"s":313},{"t":1600,"s":311}]
  },
  "concat": [
    {
      "width": 449, "height": 377,
      "title": {"text": "(a) Specimen A: 20 °C; v = 0.01 mm/s.", "orient": "bottom"},
      "layer": [
        {
          "data": {"name": "sA"},
          "mark": {"type": "area", "opacity": 1},
          "encoding": {
            "x": {"field": "t", "type": "quantitative", "scale": {"domain": [0, 473], "nice": false, "zero": false}, "axis": {"orient": "bottom", "title": "Time (s)", "values": [0, 50, 100, 150, 200, 250, 300, 350, 400, 450]}},
            "y": {"field": "e", "type": "quantitative", "stack": null, "scale": {"domain": [0, 40], "nice": false}, "axis": {"orient": "left", "title": "ε̇yy", "values": [0, 5, 10, 15, 20, 25, 30, 35, 40]}},
            "color": {"datum": "ε̇yy", "scale": {"domain": ["ε̇yy", "Stress-time curve"], "range": ["#ff0000", "#000000"]},
              "legend": {"encode": {"symbols": {"update": {"stroke": {"signal": "datum.value === 'Stress-time curve' ? '#000000' : '#ff0000'"}, "shape": {"signal": "datum.value === 'Stress-time curve' ? 'M-4.8,0H-4.2M-3.8,0H-3.2M-2.8,0H-2.2M-1.8,0H-1.2M-0.8,0H-0.2M0.2,0H0.8M1.2,0H1.8M2.2,0H2.8M3.2,0H3.8M4.2,0H4.8' : 'M-4.8,0H4.8'"}, "fill": {"value": "transparent"}, "opacity": {"value": 1}, "strokeWidth": {"value": 1.3}}}}}}
          }
        },
        {
          "data": {"name": "pA"},
          "mark": {"type": "line", "strokeDash": [3, 2], "strokeWidth": 1.1},
          "encoding": {
            "x": {"field": "t", "type": "quantitative", "axis": {"orient": "top", "title": null, "labels": false, "values": [0, 50, 100, 150, 200, 250, 300, 350, 400, 450]}},
            "y": {"field": "s", "type": "quantitative", "scale": {"domain": [0, 400], "nice": false}, "axis": {"orient": "right", "title": "Normalized stress F/S₀ (MPa)", "values": [0, 100, 200, 300, 400]}},
            "color": {"datum": "Stress-time curve"}
          }
        },
        {
          "data": {"values": [{}]},
          "mark": {"type": "text", "align": "left", "baseline": "alphabetic", "dy": -10, "font": "Liberation Serif", "fontSize": 22, "fontWeight": "bold", "color": "#000000"},
          "encoding": {
            "x": {"datum": 0, "axis": null},
            "y": {"datum": 400, "scale": {"domain": [0, 400]}, "axis": null},
            "text": {"value": "×10⁻⁴ s⁻¹"}
          }
        }
      ],
      "resolve": {"scale": {"y": "independent"}, "axis": {"x": "independent"}}
    },
    {
      "width": 449, "height": 377,
      "title": {"text": "(b) Specimen B: 175 °C; v = 0.01 mm/s.", "orient": "bottom"},
      "layer": [
        {
          "data": {"name": "sB"},
          "mark": {"type": "area", "opacity": 1},
          "encoding": {
            "x": {"field": "t", "type": "quantitative", "scale": {"domain": [0, 300], "nice": false, "zero": false}, "axis": {"orient": "bottom", "title": "Time (s)", "values": [0, 50, 100, 150, 200, 250, 300]}},
            "y": {"field": "e", "type": "quantitative", "stack": null, "scale": {"domain": [0, 40], "nice": false}, "axis": {"orient": "left", "title": "ε̇yy", "values": [0, 5, 10, 15, 20, 25, 30, 35, 40]}},
            "color": {"datum": "ε̇yy", "scale": {"domain": ["ε̇yy", "Stress-time curve"], "range": ["#ff0000", "#000000"]},
              "legend": {"encode": {"symbols": {"update": {"stroke": {"signal": "datum.value === 'Stress-time curve' ? '#000000' : '#ff0000'"}, "shape": {"signal": "datum.value === 'Stress-time curve' ? 'M-4.8,0H-4.2M-3.8,0H-3.2M-2.8,0H-2.2M-1.8,0H-1.2M-0.8,0H-0.2M0.2,0H0.8M1.2,0H1.8M2.2,0H2.8M3.2,0H3.8M4.2,0H4.8' : 'M-4.8,0H4.8'"}, "fill": {"value": "transparent"}, "opacity": {"value": 1}, "strokeWidth": {"value": 1.3}}}}}}
          }
        },
        {
          "data": {"name": "pB"},
          "mark": {"type": "line", "strokeDash": [3, 2], "strokeWidth": 1.1},
          "encoding": {
            "x": {"field": "t", "type": "quantitative", "axis": {"orient": "top", "title": null, "labels": false, "values": [0, 50, 100, 150, 200, 250, 300]}},
            "y": {"field": "s", "type": "quantitative", "scale": {"domain": [0, 400], "nice": false}, "axis": {"orient": "right", "title": "Normalized stress F/S₀ (MPa)", "values": [0, 100, 200, 300, 400]}},
            "color": {"datum": "Stress-time curve"}
          }
        },
        {
          "data": {"values": [{}]},
          "mark": {"type": "text", "align": "left", "baseline": "alphabetic", "dy": -10, "font": "Liberation Serif", "fontSize": 22, "fontWeight": "bold", "color": "#000000"},
          "encoding": {
            "x": {"datum": 0, "axis": null},
            "y": {"datum": 400, "scale": {"domain": [0, 400]}, "axis": null},
            "text": {"value": "×10⁻⁴ s⁻¹"}
          }
        }
      ],
      "resolve": {"scale": {"y": "independent"}, "axis": {"x": "independent"}}
    },
    {
      "width": 449, "height": 377,
      "title": {"text": "(c) Specimen C: 20 °C; v = 0.002 mm/s.", "orient": "bottom"},
      "layer": [
        {
          "data": {"name": "sC"},
          "mark": {"type": "area", "opacity": 1},
          "encoding": {
            "x": {"field": "t", "type": "quantitative", "scale": {"domain": [0, 2290], "nice": false, "zero": false}, "axis": {"orient": "bottom", "title": "Time (s)", "values": [0, 500, 1000, 1500, 2000]}},
            "y": {"field": "e", "type": "quantitative", "stack": null, "scale": {"domain": [0, 8], "nice": false}, "axis": {"orient": "left", "title": "ε̇yy", "values": [0, 1, 2, 3, 4, 5, 6, 7, 8]}},
            "color": {"datum": "ε̇yy", "scale": {"domain": ["ε̇yy", "Stress-time curve"], "range": ["#ff0000", "#000000"]},
              "legend": {"encode": {"symbols": {"update": {"stroke": {"signal": "datum.value === 'Stress-time curve' ? '#000000' : '#ff0000'"}, "shape": {"signal": "datum.value === 'Stress-time curve' ? 'M-4.8,0H-4.2M-3.8,0H-3.2M-2.8,0H-2.2M-1.8,0H-1.2M-0.8,0H-0.2M0.2,0H0.8M1.2,0H1.8M2.2,0H2.8M3.2,0H3.8M4.2,0H4.8' : 'M-4.8,0H4.8'"}, "fill": {"value": "transparent"}, "opacity": {"value": 1}, "strokeWidth": {"value": 1.3}}}}}}
          }
        },
        {
          "data": {"name": "pC"},
          "mark": {"type": "line", "strokeDash": [3, 2], "strokeWidth": 1.1},
          "encoding": {
            "x": {"field": "t", "type": "quantitative", "axis": {"orient": "top", "title": null, "labels": false, "values": [0, 500, 1000, 1500, 2000]}},
            "y": {"field": "s", "type": "quantitative", "scale": {"domain": [0, 400], "nice": false}, "axis": {"orient": "right", "title": "Normalized stress F/S₀ (MPa)", "values": [0, 100, 200, 300, 400]}},
            "color": {"datum": "Stress-time curve"}
          }
        },
        {
          "data": {"values": [{}]},
          "mark": {"type": "text", "align": "left", "baseline": "alphabetic", "dy": -10, "font": "Liberation Serif", "fontSize": 22, "fontWeight": "bold", "color": "#000000"},
          "encoding": {
            "x": {"datum": 0, "axis": null},
            "y": {"datum": 400, "scale": {"domain": [0, 400]}, "axis": null},
            "text": {"value": "×10⁻⁴ s⁻¹"}
          }
        }
      ],
      "resolve": {"scale": {"y": "independent"}, "axis": {"x": "independent"}}
    },
    {
      "width": 449, "height": 377,
      "title": {"text": "(d) Specimen D: 175 °C; v = 0.002 mm/s.", "orient": "bottom"},
      "layer": [
        {
          "data": {"name": "sD"},
          "mark": {"type": "area", "opacity": 1},
          "encoding": {
            "x": {"field": "t", "type": "quantitative", "scale": {"domain": [0, 1600], "nice": false, "zero": false}, "axis": {"orient": "bottom", "title": "Time (s)", "values": [0, 200, 400, 600, 800, 1000, 1200, 1400, 1600]}},
            "y": {"field": "e", "type": "quantitative", "stack": null, "scale": {"domain": [0, 8], "nice": false}, "axis": {"orient": "left", "title": "ε̇yy", "values": [0, 1, 2, 3, 4, 5, 6, 7, 8]}},
            "color": {"datum": "ε̇yy", "scale": {"domain": ["ε̇yy", "Stress-time curve"], "range": ["#ff0000", "#000000"]},
              "legend": {"encode": {"symbols": {"update": {"stroke": {"signal": "datum.value === 'Stress-time curve' ? '#000000' : '#ff0000'"}, "shape": {"signal": "datum.value === 'Stress-time curve' ? 'M-4.8,0H-4.2M-3.8,0H-3.2M-2.8,0H-2.2M-1.8,0H-1.2M-0.8,0H-0.2M0.2,0H0.8M1.2,0H1.8M2.2,0H2.8M3.2,0H3.8M4.2,0H4.8' : 'M-4.8,0H4.8'"}, "fill": {"value": "transparent"}, "opacity": {"value": 1}, "strokeWidth": {"value": 1.3}}}}}}
          }
        },
        {
          "data": {"name": "pD"},
          "mark": {"type": "line", "strokeDash": [3, 2], "strokeWidth": 1.1},
          "encoding": {
            "x": {"field": "t", "type": "quantitative", "axis": {"orient": "top", "title": null, "labels": false, "values": [0, 200, 400, 600, 800, 1000, 1200, 1400, 1600]}},
            "y": {"field": "s", "type": "quantitative", "scale": {"domain": [0, 400], "nice": false}, "axis": {"orient": "right", "title": "Normalized stress F/S₀ (MPa)", "values": [0, 100, 200, 300, 400]}},
            "color": {"datum": "Stress-time curve"}
          }
        },
        {
          "data": {"values": [{}]},
          "mark": {"type": "text", "align": "left", "baseline": "alphabetic", "dy": -10, "font": "Liberation Serif", "fontSize": 22, "fontWeight": "bold", "color": "#000000"},
          "encoding": {
            "x": {"datum": 0, "axis": null},
            "y": {"datum": 400, "scale": {"domain": [0, 400]}, "axis": null},
            "text": {"value": "×10⁻⁴ s⁻¹"}
          }
        },
        {
          "data": {"values": [{}]},
          "mark": {"type": "text", "align": "center", "baseline": "middle", "angle": 300, "font": "Liberation Serif", "fontSize": 212, "fontWeight": "bold", "color": "#d6d6d6", "opacity": 0.85},
          "encoding": {
            "x": {"datum": -311, "axis": null},
            "y": {"datum": 0.72, "scale": {"domain": [0, 8]}, "axis": null},
            "text": {"value": "Journal Pre-proof"}
          }
        }
      ],
      "resolve": {"scale": {"y": "independent"}, "axis": {"x": "independent"}}
    }
  ]
}
